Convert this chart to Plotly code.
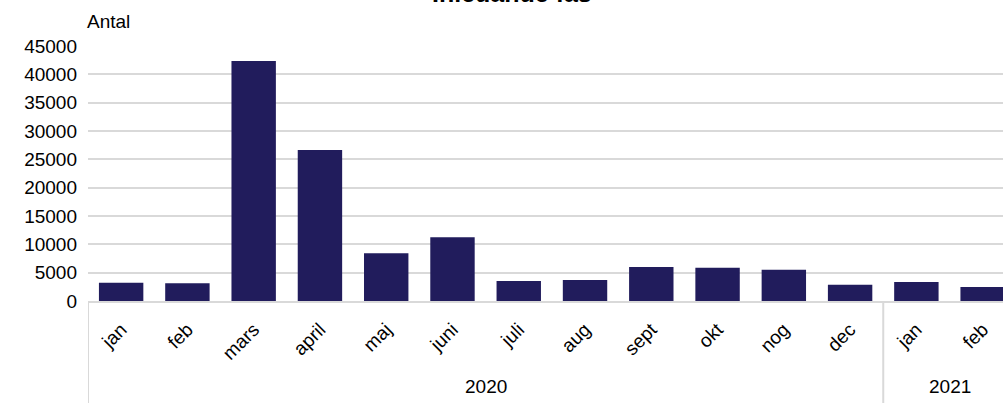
import plotly.graph_objects as go

months = ["jan", "feb", "mars", "april", "maj", "juni", "juli", "aug",
          "sept", "okt", "nog", "dec", "jan", "feb"]
years = ["2020"] * 12 + ["2021"] * 2
values = [3230, 3120, 42350, 26650, 8420, 11240, 3530, 3700,
          6000, 5880, 5530, 2880, 3350, 2470]
y_ticks = [0, 5000, 10000, 15000, 20000, 25000, 30000, 35000, 40000, 45000]
title_text = "Inledande fas"
y_title = "Antal"

FONT = "Liberation Sans, Arial, sans-serif"
BAR = "#211c5c"
GRID = "#d9d9d9"

W, H = 1003, 403
ML, MR, MT, MB = 88, 0, 46, 102
PW, PH = W - ML - MR, H - MT - MB

xs = list(range(len(months)))
fig = go.Figure(go.Bar(x=xs, y=values, marker=dict(color=BAR, line=dict(width=0)),
                       width=0.67))

fig.update_layout(
    width=W, height=H,
    margin=dict(l=ML, r=MR, t=MT, b=MB, pad=0),
    paper_bgcolor="white", plot_bgcolor="white",
    showlegend=False,
    font=dict(family=FONT, size=19, color="#000000"),
)
fig.update_xaxes(
    range=[-0.5, -0.5 + PW / 66.27],
    tickmode="array", tickvals=xs, ticktext=months,
    tickangle=-45, showgrid=False, zeroline=False,
    showline=True, linecolor=GRID, linewidth=2,
    ticks="", tickfont=dict(size=19), ticklabelstandoff=8,
)
fig.update_yaxes(
    range=[0, 45000], tickvals=y_ticks, ticktext=[str(v) for v in y_ticks],
    showgrid=True, gridcolor=GRID, gridwidth=2, zeroline=False,
    showline=False, ticks="", ticklabelstandoff=10, tickfont=dict(size=19),
)

# year group labels and dividers
groups = []
start = 0
for i in range(1, len(years) + 1):
    if i == len(years) or years[i] != years[start]:
        groups.append((years[start], start, i - 1))
        start = i
bottom = -MB / PH
for name, a, b in groups:
    fig.add_annotation(x=(a + b) / 2, xref="x", y=(301 - 386) / PH, yref="paper",
                       text=name, showarrow=False, font=dict(size=19),
                       xanchor="center", yanchor="middle")
    fig.add_shape(type="line", x0=a - 0.5, x1=a - 0.5, xref="x",
                  y0=0, y1=bottom, yref="paper",
                  line=dict(color=GRID, width=2))

fig.add_annotation(x=(85 - ML) / PW, xref="paper", y=(301 - 22) / PH,
                   yref="paper", text=y_title, showarrow=False,
                   xanchor="left", yanchor="middle", font=dict(size=19))
fig.add_annotation(x=(512 - ML) / PW, xref="paper", y=(301 - 9) / PH, yref="paper",
                   text="<b>" + title_text + "</b>", showarrow=False,
                   xanchor="center", yanchor="bottom", font=dict(size=25))

fig.write_html("out.html", config={"displayModeBar": False},
               post_script="document.body.style.margin='0';document.body.style.overflow='hidden';")
